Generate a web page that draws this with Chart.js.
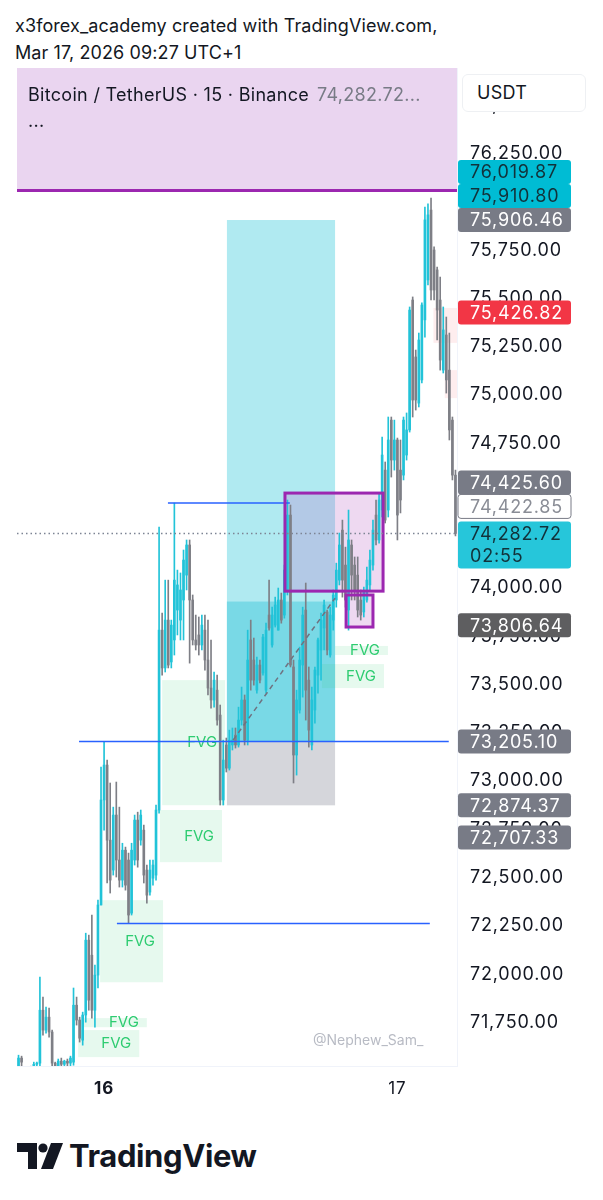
<!DOCTYPE html>
<html>
<head>
<meta charset="utf-8">
<script src="https://cdn.jsdelivr.net/npm/chart.js@4.4.1/dist/chart.umd.min.js"></script>
<style>
  body { margin: 0; width: 603px; height: 1200px; background: #fff; position: relative; overflow: hidden;
         font-family: Inter, "Noto Sans", sans-serif; color: #131722; }
  #credit { position: absolute; left: 15px; top: 12px; font-size: 18px; line-height: 27px; letter-spacing: 0.1px; }
  #frame { position: absolute; left: 15px; top: 66px; width: 573px; height: 1044px; }
  #legend { position: absolute; left: 28px; top: 82px; font-size: 18px; line-height: 26px; letter-spacing: 0.3px; }
  #legend span { color: #787b86; margin-left: 8px; }
  #usdt { position: absolute; left: 462px; top: 74px; width: 124px; height: 38px; box-sizing: border-box;
          border: 1px solid #eef0f3; border-radius: 6px; background: #fff; font-size: 18px;
          line-height: 36px; padding-left: 14px; letter-spacing: 0.3px; }
  #mark { position: absolute; left: 313px; top: 1031px; font-size: 14px; color: #b8bbc4; }
  #logo { position: absolute; left: 17px; top: 1137px; display: flex; align-items: center; }
  #logo b { font-size: 31px; font-weight: 700; margin-left: 6px; letter-spacing: -0.4px; }
</style>
</head>
<body>
<div id="credit">x3forex_academy created with TradingView.com,<br>Mar 17, 2026 09:27 UTC+1</div>
<div id="frame"><canvas id="c" width="573" height="1044"></canvas></div>
<div id="legend">Bitcoin / TetherUS · 15 · Binance<span>74,282.72...</span><br>...</div>
<div id="usdt">USDT</div>
<div id="mark">@Nephew_Sam_</div>
<div id="logo">
  <svg width="46" height="26" viewBox="0 0 46 26">
    <path d="M0 0h20v26h-9V9H0z" fill="#131722"/>
    <circle cx="26" cy="5" r="4.6" fill="#131722"/>
    <path d="M34 0h12L36 26H24z" fill="#131722"/>
  </svg>
  <b>TradingView</b>
</div>
<script>
// BTCUSDT 15m candles
const opens = [71399,71565,71502,71425,71476,71451,71533,71539,71813,71710,71777,71700,71539,71451,71549,71533,71549,71539,71544,71839,
  71762,71658,71788,72176,72098,71813,71995,72358,72902,73083,72694,72539,72824,72591,72487,72642,72591,72316,72591,72798,
  72694,72746,72539,72425,72497,72513,72850,73782,73586,73834,73617,73731,73886,73834,73938,74067,74223,73938,73731,73757,
  73705,73782,73627,73482,73420,73471,73342,72902,73187,73067,73187,73238,73187,73316,73420,73212,73731,73627,73471,73601,
  73560,73471,73860,73705,73808,73782,73938,73860,73990,74378,73591,73135,73368,73601,73886,73523,73187,73368,73549,73679,
  73793,73876,73653,73834,73938,74041,74300,74119,73886,74223,74119,74067,73938,73876,73938,74016,74119,74378,74249,74404,
  74611,74404,74870,74663,74767,74611,74585,74689,74819,75492,75197,74958,75078,75389,75596,75958,75751,75648,75492,75129,
  75311,75129,74870,74585];
const highs = [71580,71575,71513,71492,71523,71544,71544,71984,71881,71829,71824,71710,71544,71560,71565,71554,71560,71575,71928,71881,
  71777,71803,72212,72202,72306,72047,72383,73073,73205,73109,72990,72865,72995,72865,72678,72658,72627,72678,72824,72839,
  72850,72772,72565,72591,72591,72876,74316,73870,74041,74041,73834,74440,74093,74078,74197,74249,74249,73964,73860,73850,
  73860,73860,73834,73731,73565,73549,73394,73212,73223,73264,73275,73275,73383,73487,73446,73782,73834,73741,73642,73627,
  73760,73818,74041,73901,73953,74000,73974,74119,74456,74430,73627,73471,73694,73901,74026,73591,73487,73591,73741,73870,
  73938,73886,73901,73990,74129,74285,74352,74212,74404,74249,74161,74161,73990,74005,74109,74197,74352,74456,74492,74782,
  74653,74886,74886,74870,74777,74767,74886,74907,75456,75508,75233,75321,75477,75974,75990,76020,75767,75663,75611,75456,
  75404,75321,74886,74611];
const lows = [71347,71399,71373,71373,71399,71399,71476,71523,71684,71694,71673,71451,71399,71425,71476,71502,71502,71513,71528,71736,
  71648,71632,71751,71813,71772,71725,71928,72358,72746,72472,72420,72513,72503,72451,72451,72435,72262,72306,72565,72554,
  72668,72472,72368,72409,72461,72487,72834,73549,73565,73586,73586,73653,73757,73731,73731,73990,73611,73705,73679,73653,
  73679,73575,73446,73378,73383,73290,72876,72876,73047,73057,73161,73171,73176,73290,73187,73187,73471,73497,73456,73508,
  73549,73456,73782,73694,73798,73782,73818,73844,73964,73591,72990,73031,73352,73435,73316,73176,73161,73300,73456,73523,
  73679,73653,73642,73782,73901,74016,73953,73901,73782,73938,73938,73850,73834,73850,73927,73990,74093,74223,74233,74368,
  74337,74368,74575,74611,74249,74389,74560,74663,74808,74886,74922,74938,75062,75300,75570,75492,75492,75285,75129,75114,
  75010,74767,74560,74270];
const closes = [71565,71544,71425,71476,71451,71533,71539,71813,71710,71777,71700,71539,71451,71549,71533,71549,71539,71565,71839,71762,
  71668,71788,72176,71865,71813,71995,72358,72902,73083,72694,72487,72824,72591,72487,72642,72461,72306,72642,72798,72591,
  72824,72513,72409,72539,72565,72850,73782,73586,73834,73601,73808,74041,74016,73990,74145,74223,73938,73731,73705,73705,
  73808,73627,73482,73420,73523,73316,72902,73109,73067,73212,73212,73187,73316,73420,73212,73627,73523,73523,73601,73523,
  73746,73782,73793,73860,73912,73938,73834,74093,74378,73601,73135,73420,73627,73860,73471,73264,73420,73575,73731,73834,
  73912,73679,73860,73964,74093,74223,74041,73938,74249,74067,73990,73886,73860,73979,74041,74145,74300,74249,74456,74689,
  74352,74767,74663,74767,74378,74456,74870,74819,75440,74974,74974,75285,75466,75907,75933,75544,75544,75440,75181,75337,
  75078,74819,74585,74282.72];

// axis
const priceMin = 71524;
const priceMax = 76694;
const priceStep = 250;
const dayTickIndex = [28, 124];
const dayTickText = ['16', '17'];

// drawings (bar index, price)
const bandBottom = 76060;
const posStart = 68.2, posEnd = 103.6;
const posTarget = 75906.46, posMid = 73930, posEntry = 73205.10, posStop = 72874.37;
const posPathFrom = [70.2, 73212], posPathTo = [103.6, 73948];
const fvgStart = [47, 46.3, 26.7, 21, 19.5, 103.6, 99.3];
const fvgEnd = [67.6, 66.6, 47.3, 42, 39.5, 120.9, 119.6];
const fvgTop = [73523, 72850, 72383, 71772, 71710, 73700, 73606];
const fvgBottom = [72875, 72580, 71958, 71725, 71570, 73653, 73482];
const bearStart = [135.8, 139.5];
const bearTop = [75451, 75129];
const bearBottom = [75270, 74984];
const lineLevel = [74440, 73205.10, 72262];
const lineStart = [48.9, 19.8, 32.2];
const lineEnd = [88.8, 140.8, 134.6];
const boxStart = [87.2, 107.2];
const boxEnd = [119.3, 116];
const boxTop = [74492, 73964];
const boxBottom = [73984, 73798];
const lastPrice = 74282.72;
const countdown = '02:55';

// price tags on the axis
const tagValues = [76019.87, 75910.80, 75906.46, 75426.82, 74425.60, 74422.85, 74282.72, 73806.64, 73205.10, 72874.37, 72707.33];
const tagBg = ['#00bcd4', '#00bcd4', '#787b86', '#f23645', '#787b86', '#ffffff', '#26c6da', '#5e5e60', '#787b86', '#787b86', '#787b86'];
const tagFg = ['#12323a', '#12323a', '#ffffff', '#ffffff', '#ffffff', '#8a8d96', '#12323a', '#ffffff', '#ffffff', '#ffffff', '#ffffff'];
const tagOrder = [6, 5, 4, 2, 1, 0, 3, 7, 8, 9, 10];

const UP = '#22c3d8';
const DOWN = '#7e7f86';
const FONT = 'Inter, "Noto Sans", sans-serif';
const AXIS_SPACING = '0.8px';
const fmt = (v) => v.toLocaleString('en-US', { minimumFractionDigits: 2, maximumFractionDigits: 2 });

const candleColors = opens.map((o, i) => (closes[i] >= o ? UP : DOWN));

const drawings = {
  id: 'drawings',
  beforeDraw(chart) {
    chart.ctx.letterSpacing = AXIS_SPACING;
  },
  beforeDatasetsDraw(chart) {
    const { ctx, chartArea: a, scales: { x, y } } = chart;
    const px = (i) => x.getPixelForValue(i);
    const py = (p) => y.getPixelForValue(p);
    const box = (i0, i1, top, bottom, fill) => {
      ctx.fillStyle = fill;
      ctx.fillRect(px(i0), py(top), px(i1) - px(i0), py(bottom) - py(top));
    };
    ctx.save();
    ctx.beginPath();
    ctx.rect(a.left, a.top, a.width, a.height);
    ctx.clip();

    // top band
    ctx.fillStyle = '#ead5f0';
    ctx.fillRect(a.left, a.top, a.width, py(bandBottom) - a.top);

    // long position
    box(posStart, posEnd, posTarget, posEntry, '#b0eaf1');
    box(posStart, posEnd, posMid, posEntry, '#79d9e6');
    box(posStart, posEnd, posEntry, posStop, '#d5d6db');

    // fvg boxes
    fvgStart.forEach((s, k) => box(s, fvgEnd[k], fvgTop[k], fvgBottom[k], 'rgba(46,204,113,0.12)'));
    bearStart.forEach((s, k) => {
      ctx.fillStyle = 'rgba(242,54,69,0.09)';
      ctx.fillRect(px(s), py(bearTop[k]), a.right - px(s), py(bearBottom[k]) - py(bearTop[k]));
    });

    // purple boxes fill
    boxStart.forEach((s, k) => box(s, boxEnd[k], boxTop[k], boxBottom[k], 'rgba(186,104,200,0.25)'));
    ctx.restore();
  },
  afterDatasetsDraw(chart) {
    const { ctx, chartArea: a, scales: { x, y } } = chart;
    const px = (i) => x.getPixelForValue(i);
    const py = (p) => y.getPixelForValue(p);
    ctx.save();
    ctx.letterSpacing = '0px';
    ctx.beginPath();
    ctx.rect(a.left, a.top, a.width, a.height);
    ctx.clip();

    // band bottom line
    ctx.strokeStyle = '#9c27b0';
    ctx.lineWidth = 3;
    ctx.beginPath();
    ctx.moveTo(a.left, py(bandBottom));
    ctx.lineTo(a.right, py(bandBottom));
    ctx.stroke();

    // fvg labels
    ctx.font = '15px ' + FONT;
    ctx.fillStyle = '#2ecc71';
    ctx.textAlign = 'right';
    ctx.textBaseline = 'middle';
    fvgStart.forEach((s, k) => {
      ctx.fillText('FVG', px(fvgEnd[k]) - 8, (py(fvgTop[k]) + py(fvgBottom[k])) / 2);
    });

    // horizontal levels
    ctx.strokeStyle = '#2962ff';
    ctx.lineWidth = 1.5;
    lineLevel.forEach((lv, k) => {
      ctx.beginPath();
      ctx.moveTo(px(lineStart[k]), py(lv));
      ctx.lineTo(px(lineEnd[k]), py(lv));
      ctx.stroke();
    });

    // position path
    ctx.strokeStyle = '#6f7280';
    ctx.setLineDash([5, 4]);
    ctx.beginPath();
    ctx.moveTo(px(posPathFrom[0]), py(posPathFrom[1]));
    ctx.lineTo(px(posPathTo[0]), py(posPathTo[1]));
    ctx.stroke();

    // purple boxes border
    ctx.setLineDash([]);
    ctx.strokeStyle = '#9c27b0';
    ctx.lineWidth = 3;
    boxStart.forEach((s, k) => {
      ctx.strokeRect(px(s), py(boxTop[k]), px(boxEnd[k]) - px(s), py(boxBottom[k]) - py(boxTop[k]));
    });

    // last price line
    ctx.strokeStyle = '#7d8494';
    ctx.lineWidth = 1.5;
    ctx.setLineDash([1.5, 3]);
    ctx.beginPath();
    ctx.moveTo(a.left, py(lastPrice));
    ctx.lineTo(a.right, py(lastPrice));
    ctx.stroke();
    ctx.restore();
  },
  afterDraw(chart) {
    const { ctx, chartArea: a, scales: { y } } = chart;
    const h = 24;
    const left = a.right + 1;
    const w = 113;
    const placed = [];
    ctx.save();
    ctx.letterSpacing = AXIS_SPACING;
    tagOrder.forEach((k) => {
      const isLast = tagValues[k] === lastPrice;
      let cy = y.getPixelForValue(tagValues[k]);
      if (!isLast) {
        for (let n = 0; n < 10; n++) {
          const hit = placed.find((p) => cy + h / 2 > p.top + 0.5 && cy - h / 2 < p.bottom - 0.5);
          if (!hit) break;
          cy = tagValues[k] > hit.value ? hit.top - h / 2 : hit.bottom + h / 2;
        }
      }
      const top = cy - h / 2;
      const bottom = isLast ? cy + h / 2 + 23 : cy + h / 2;
      placed.push({ value: tagValues[k], top, bottom });

      ctx.fillStyle = tagBg[k];
      ctx.beginPath();
      ctx.roundRect(left, top, w, bottom - top, 3);
      ctx.fill();
      if (tagBg[k] === '#ffffff') {
        ctx.strokeStyle = '#787b86';
        ctx.lineWidth = 1;
        ctx.stroke();
      }
      ctx.fillStyle = tagFg[k];
      ctx.font = '18px ' + FONT;
      ctx.textAlign = 'left';
      ctx.textBaseline = 'middle';
      ctx.fillText(fmt(tagValues[k]), a.right + 13, cy + 1);
      if (isLast) ctx.fillText(countdown, a.right + 13, cy + 23);
    });
    ctx.restore();
  }
};

new Chart(document.getElementById('c'), {
  type: 'bar',
  data: {
    labels: opens.map((_, i) => i),
    datasets: [
      {
        label: 'wick',
        data: lows.map((l, i) => [l, highs[i]]),
        backgroundColor: candleColors,
        barThickness: 1,
        grouped: false,
        order: 2
      },
      {
        label: 'body',
        data: opens.map((o, i) => [o, closes[i]]),
        backgroundColor: candleColors,
        barThickness: 2,
        minBarLength: 1,
        grouped: false,
        order: 1
      }
    ]
  },
  options: {
    responsive: false,
    devicePixelRatio: 1,
    animation: false,
    layout: { padding: { left: 2, top: 2, right: 0, bottom: 0 } },
    plugins: { legend: { display: false }, tooltip: { enabled: false } },
    scales: {
      x: {
        offset: true,
        grid: { display: false, drawTicks: false },
        border: { color: '#f0f3fa' },
        afterFit: (s) => { s.height = 44; s.paddingLeft = 0; s.paddingRight = 0; },
        ticks: {
          autoSkip: false,
          maxRotation: 0,
          padding: 13,
          color: '#131722',
          font: (c) => ({ family: FONT, size: 17, weight: c.index === dayTickIndex[0] ? '700' : '400' }),
          callback: (v, i) => {
            const k = dayTickIndex.indexOf(i);
            return k >= 0 ? dayTickText[k] : '';
          }
        }
      },
      y: {
        position: 'right',
        min: priceMin,
        max: priceMax,
        grid: { display: false, drawTicks: false },
        border: { color: '#f0f3fa' },
        afterFit: (s) => { s.width = 131; s.paddingTop = 0; s.paddingBottom = 0; },
        afterBuildTicks: (s) => { s.ticks = s.ticks.filter((t) => t.value % priceStep === 0); },
        ticks: {
          stepSize: priceStep,
          padding: 13,
          color: '#131722',
          font: { family: FONT, size: 18 },
          callback: (v) => fmt(v)
        }
      }
    }
  },
  plugins: [drawings]
});
</script>
</body>
</html>
